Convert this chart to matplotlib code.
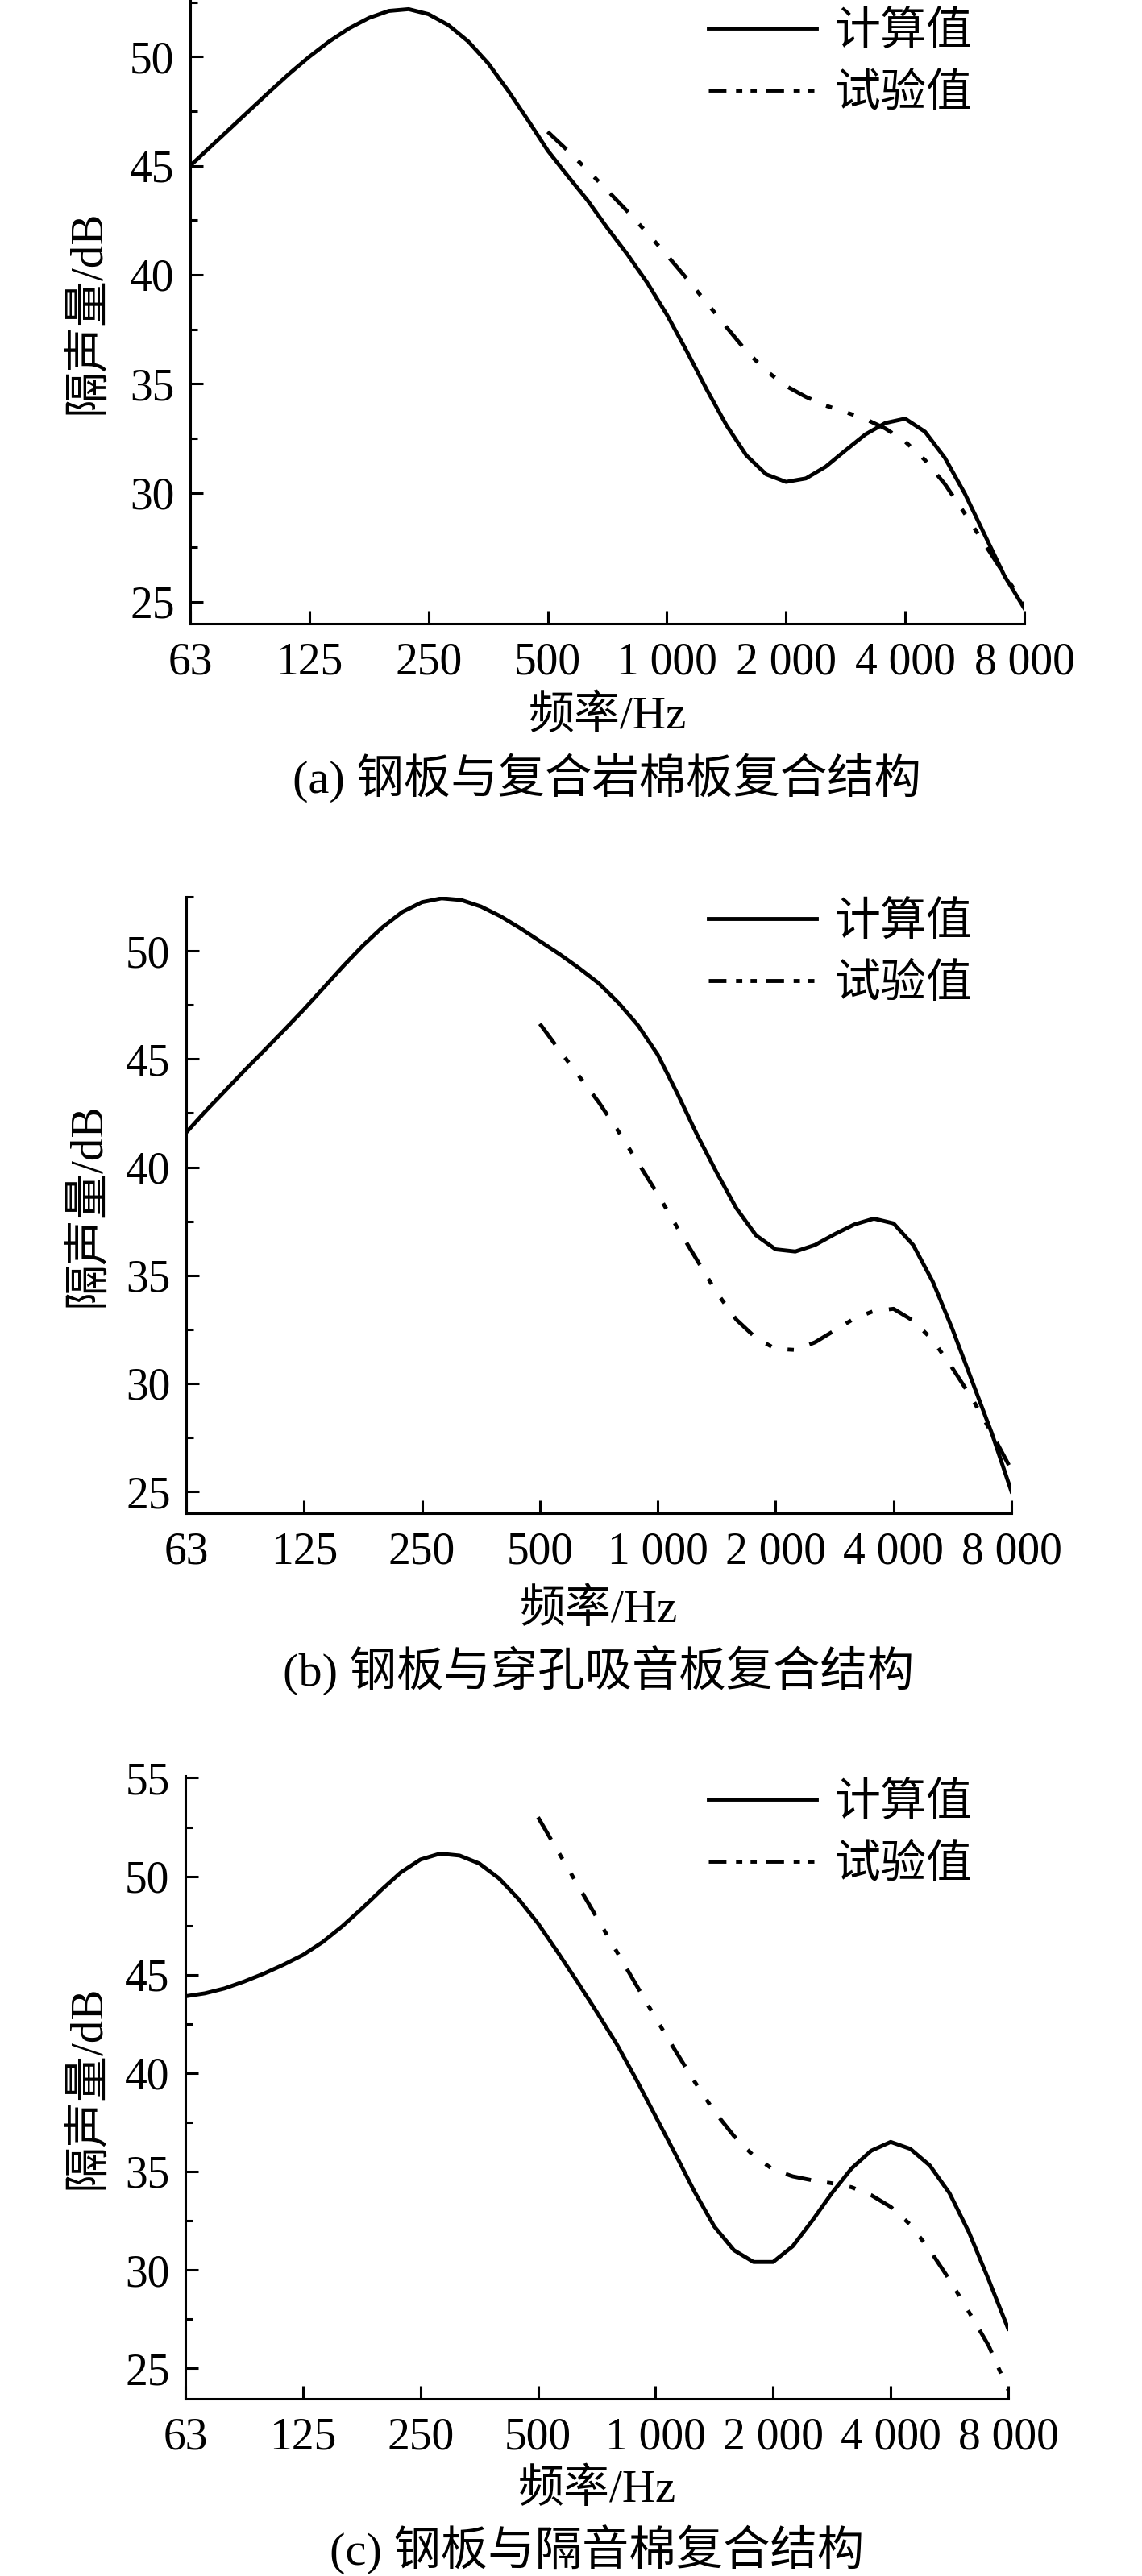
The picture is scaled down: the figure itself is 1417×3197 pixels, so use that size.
import matplotlib
matplotlib.use("Agg")
import matplotlib.pyplot as plt
from matplotlib.lines import Line2D
from matplotlib.ticker import FixedLocator, MultipleLocator, NullLocator

# Fuentes: numeros en serif, caracteres chinos con Noto Sans CJK
plt.rcParams['font.family'] = ['Liberation Serif', 'Noto Sans CJK SC']

# Frecuencias (Hz) en pasos de 1/6 de octava
frecuencias = [62.5, 70.15, 78.75, 88.39, 99.21, 111.36, 125, 140.31, 157.49, 176.78,
               198.43, 222.72, 250, 280.62, 314.98, 353.55, 396.85, 445.45, 500, 561.23,
               629.96, 707.11, 793.70, 890.90, 1000, 1122.46, 1259.92, 1414.21, 1587.40,
               1781.80, 2000, 2244.92, 2519.84, 2828.43, 3174.80, 3563.59, 4000, 4489.85,
               5039.68, 5656.85, 6349.60, 7127.19, 8000]
frec_prueba = frecuencias[18:]

ticks_x = [62.5, 125, 250, 500, 1000, 2000, 4000, 8000]
etiquetas_x = ['63', '125', '250', '500', '1 000', '2 000', '4 000', '8 000']

# (a) acero + lana de roca
calc_a = [45.0, 45.85, 46.7, 47.55, 48.4, 49.23, 50.0, 50.7, 51.3, 51.78, 52.1, 52.18,
          51.95, 51.45, 50.7, 49.7, 48.45, 47.1, 45.7, 44.54, 43.42, 42.15, 40.95, 39.65,
          38.17, 36.5, 34.75, 33.1, 31.72, 30.85, 30.5, 30.66, 31.2, 31.95, 32.68, 33.2,
          33.4, 32.8, 31.6, 29.97, 28.08, 26.19, 24.7]
prueba_a = [46.56, 45.7, 44.8, 43.87, 42.92, 41.93, 40.9, 39.83, 38.72, 37.6, 36.5, 35.6,
            34.9, 34.4, 34.0, 33.7, 33.38, 32.95, 32.35, 31.5, 30.4, 29.05, 27.65, 26.25, 24.87]

# (b) acero + panel perforado
calc_b = [41.6, 42.6, 43.55, 44.5, 45.42, 46.35, 47.3, 48.3, 49.3, 50.25, 51.1, 51.8,
          52.25, 52.43, 52.35, 52.05, 51.6, 51.05, 50.45, 49.85, 49.2, 48.5, 47.6, 46.55,
          45.2, 43.4, 41.5, 39.75, 38.1, 36.85, 36.2, 36.1, 36.4, 36.9, 37.35, 37.62,
          37.4, 36.4, 34.7, 32.5, 30.1, 27.7, 25.0]
prueba_b = [46.63, 45.4, 44.2, 43.0, 41.65, 40.2, 38.75, 37.2, 35.7, 34.2, 32.95, 32.1,
            31.6, 31.55, 31.9, 32.45, 33.0, 33.35, 33.45, 32.9, 32.0, 30.7, 29.3, 27.7, 26.0]

# (c) acero + algodon aislante
calc_c = [43.9, 44.05, 44.3, 44.65, 45.05, 45.5, 46.0, 46.65, 47.45, 48.35, 49.3, 50.2,
          50.85, 51.15, 51.05, 50.65, 49.9, 48.85, 47.6, 46.15, 44.65, 43.1, 41.5, 39.7,
          37.8, 35.9, 33.95, 32.2, 31.0, 30.4, 30.4, 31.2, 32.5, 33.9, 35.15, 36.05,
          36.5, 36.15, 35.3, 33.9, 31.9, 29.5, 27.0]
prueba_c = [53.0, 51.3, 49.6, 47.9, 46.2, 44.5, 42.8, 41.15, 39.55, 38.05, 36.8, 35.8,
            35.1, 34.75, 34.55, 34.4, 34.2, 33.8, 33.2, 32.3, 31.0, 29.5, 27.85, 26.15, 23.9]

titulos = ['(a) 钢板与复合岩棉板复合结构',
           '(b) 钢板与穿孔吸音板复合结构',
           '(c) 钢板与隔音棉复合结构']
leyenda = ['计算值', '试验值']

W, H = 1417, 3197
# posicion en pixeles: izquierda, derecha, arriba, abajo, limites y, y de textos
paneles = [
    dict(l=236, r=1271, t=0, b=774, ylim=(24.0, 52.6), yticks=[25, 30, 35, 40, 45, 50],
         ley=35, xlab=889, tit=965),
    dict(l=231, r=1255, t=1113, b=1878, ylim=(24.0, 52.5), yticks=[25, 30, 35, 40, 45, 50],
         ley=1140, xlab=1998, tit=2073),
    dict(l=230, r=1251, t=2204, b=2977, ylim=(23.45, 55.1), yticks=[25, 30, 35, 40, 45, 50, 55],
         ley=2233, xlab=3090, tit=3164),
]
datos = [(calc_a, prueba_a), (calc_b, prueba_b), (calc_c, prueba_c)]

GROSOR = 3.5
raya_curva = (0, (6.6, 4.15, 1.6, 4.25, 1.6, 4.25))
raya_leyenda = (0, (4.5, 2.45, 1.6, 2.1, 1.6, 2.45))

fig = plt.figure(figsize=(W / 100, H / 100), dpi=100)

for p, (calc, prueba), titulo in zip(paneles, datos, titulos):
    ax = fig.add_axes([p['l'] / W, 1 - p['b'] / H, (p['r'] - p['l']) / W, (p['b'] - p['t']) / H])
    ax.plot(frecuencias, calc, color='black', lw=GROSOR, solid_joinstyle='round')
    ax.plot(frec_prueba, prueba, color='black', lw=GROSOR, ls=raya_curva,
            dash_joinstyle='round')

    ax.set_xscale('log', base=2)
    ax.set_xlim(62.5, 8000)
    ax.xaxis.set_major_locator(FixedLocator(ticks_x))
    ax.xaxis.set_minor_locator(NullLocator())
    ax.set_xticklabels(etiquetas_x)
    ax.set_ylim(*p['ylim'])
    ax.yaxis.set_major_locator(FixedLocator(p['yticks']))
    ax.yaxis.set_minor_locator(MultipleLocator(2.5))

    for lado in ['top', 'right']:
        ax.spines[lado].set_visible(False)
    for lado in ['left', 'bottom']:
        ax.spines[lado].set_linewidth(2.2)
    ax.tick_params(which='major', direction='in', length=11.5, width=2.2, labelsize=40)
    ax.tick_params(which='minor', direction='in', length=6.5, width=2.2)
    ax.tick_params(axis='y', which='major', pad=14)
    ax.tick_params(axis='x', which='major', pad=16)
    ax.patch.set_alpha(0)

    xc = (p['l'] + p['r']) / 2 / W
    fig.text(110 / W, 1 - (p['t'] + p['b']) / 2 / H, '隔声量/dB', rotation=90,
             ha='center', va='center', fontsize=41)
    fig.text(xc, 1 - p['xlab'] / H, '频率/Hz', ha='center', va='center', fontsize=41)
    fig.text(xc, 1 - p['tit'] / H, titulo, ha='center', va='center', fontsize=42)

    manejadores = [Line2D([], [], color='black', lw=GROSOR),
                   Line2D([], [], color='black', lw=GROSOR, ls=raya_leyenda)]
    ax.legend(manejadores, leyenda, loc='center left',
              bbox_to_anchor=(879 / W, 1 - (p['ley'] + 43.5) / H),
              bbox_transform=fig.transFigure, frameon=False, fontsize=41,
              handlelength=2.35, handletextpad=0.4, labelspacing=0.42,
              borderpad=0, borderaxespad=0)

fig.savefig('out.png', dpi=100)
